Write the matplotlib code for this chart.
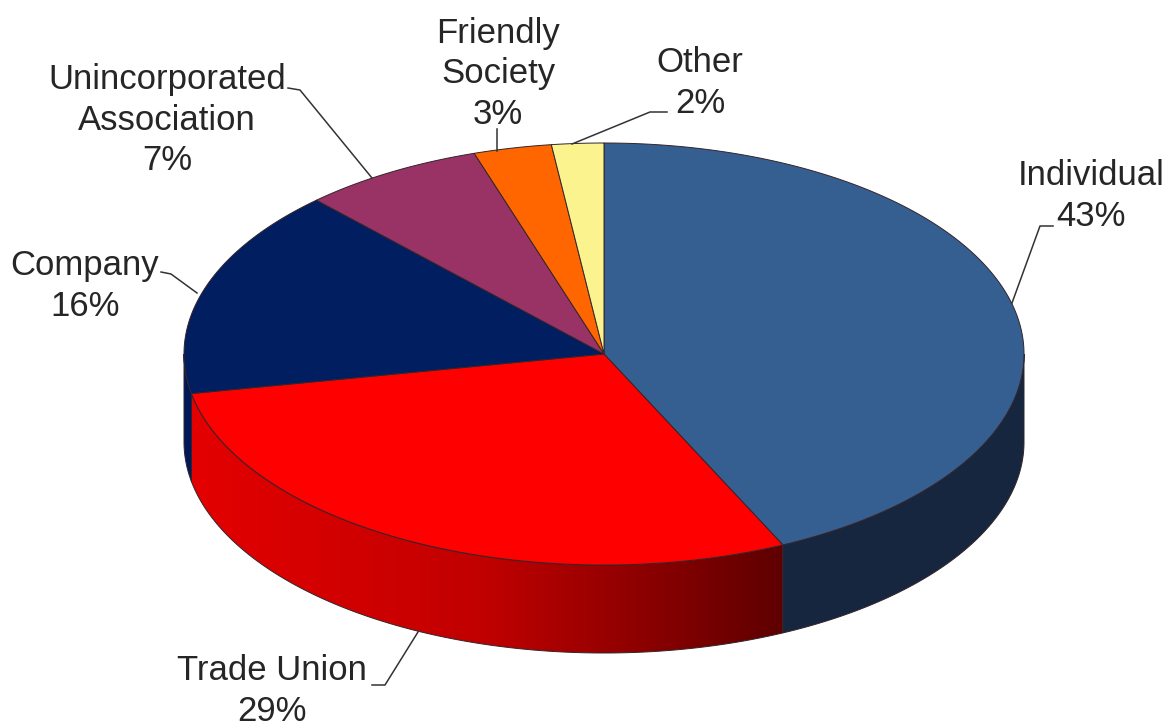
import numpy as np
import matplotlib
matplotlib.use("Agg")
import matplotlib.pyplot as plt
from matplotlib.colors import LinearSegmentedColormap
from matplotlib.patches import Polygon

categories = ["Individual", "Trade Union", "Company", "Unincorporated\nAssociation", "Friendly\nSociety", "Other"]
values = [43, 29, 16, 7, 3, 2]
top_colors = ["#365f91", "#ff0000", "#001e60", "#993366", "#ff6600", "#faf38e"]
side_colors = ["#17263f", None, "#00185a", "#7a2850", "#cc5200", "#cccc7a"]

# geometry of the tilted disc, in pixels
cx, cy = 604, 354
rx, ry = 420, 211
depth = 88
edge = "#33242a"

# label centres and their leader lines
label_pos = [(1091, 196), (272, 691), (85, 286), (167, 120), (498, 74), (700, 83)]
leaders = [
    [(1012, 303), (1040, 226), (1053, 226)],
    [(418, 632), (385, 685), (372, 685)],
    [(197, 293), (171, 274), (161, 272)],
    [(372, 178), (300, 90), (288, 88)],
    [(497, 151), (497, 129)],
    [(572, 144), (650, 112), (667, 112)],
]


def rim(theta, drop=0):
    # theta runs clockwise from the top of the disc
    return cx + rx * np.sin(theta), cy - ry * np.cos(theta) + drop


fig = plt.figure(figsize=(11.72, 7.27), dpi=100)
ax = fig.add_axes([0, 0, 1, 1])

edges = np.deg2rad(np.cumsum([0] + values) * 3.6)
red_wall = LinearSegmentedColormap.from_list("red_wall", ["#e40000", "#c00000", "#5e0000"])

# side wall, only the front half of the disc shows
for i in range(len(values)):
    start = max(edges[i], np.pi / 2)
    stop = min(edges[i + 1], 3 * np.pi / 2)
    if start >= stop:
        continue
    t = np.linspace(start, stop, 200)
    x, y = rim(t)
    pts = np.concatenate([np.column_stack([x, y]), np.column_stack([x, y + depth])[::-1]])
    if side_colors[i] is None:
        # the trade union wall gets darker from left to right
        wall = Polygon(pts, closed=True, facecolor="none", edgecolor=edge, lw=0.7, zorder=3)
        ax.add_patch(wall)
        ramp = ax.imshow(np.linspace(0, 1, 256).reshape(1, -1), cmap=red_wall, aspect="auto",
                         extent=(x.min(), x.max(), y.max() + depth, y.min()), zorder=2)
        ramp.set_clip_path(wall)
    else:
        ax.add_patch(Polygon(pts, closed=True, facecolor=side_colors[i], edgecolor=edge, lw=0.7, zorder=3))

# top face
for i in range(len(values)):
    t = np.linspace(edges[i], edges[i + 1], 300)
    x, y = rim(t)
    pts = np.concatenate([[(cx, cy)], np.column_stack([x, y])])
    ax.add_patch(Polygon(pts, closed=True, facecolor=top_colors[i], edgecolor=edge, lw=0.7, zorder=4))

for name, val, (lx, ly), pts in zip(categories, values, label_pos, leaders):
    ax.text(lx, ly, f"{name}\n{val}%", ha="center", va="center", multialignment="center",
            fontsize=25, family="Liberation Sans", color="#262626", linespacing=1.3, zorder=6)
    ax.plot(*zip(*pts), color="#333333", lw=1.1, zorder=5)

ax.set_xlim(0, 1172)
ax.set_ylim(727, 0)
ax.axis("off")

fig.savefig("out.png", dpi=100, facecolor="white")
